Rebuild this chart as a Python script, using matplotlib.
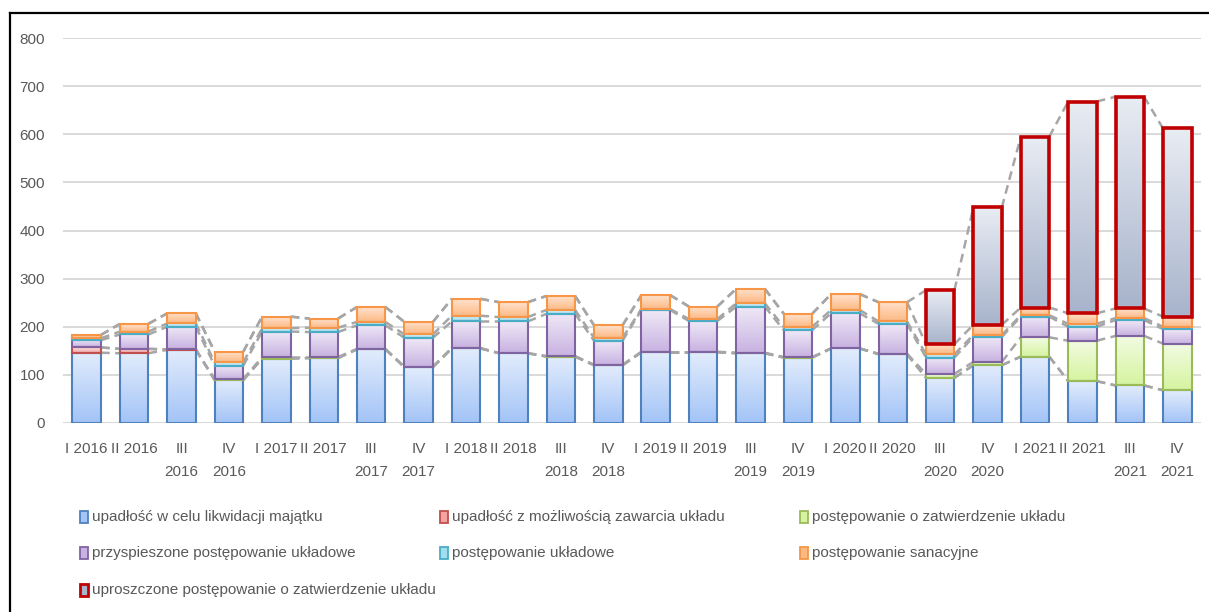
import numpy as np
import matplotlib
matplotlib.use("Agg")
import matplotlib.pyplot as plt
from matplotlib.colors import LinearSegmentedColormap
from matplotlib.patches import Rectangle
from matplotlib.lines import Line2D

plt.rcParams['font.family'] = ['Liberation Sans Narrow', 'Liberation Sans', 'DejaVu Sans']

# Quarter labels
quarters = ["I 2016", "II 2016", "III\n2016", "IV\n2016",
            "I 2017", "II 2017", "III\n2017", "IV\n2017",
            "I 2018", "II 2018", "III\n2018", "IV\n2018",
            "I 2019", "II 2019", "III\n2019", "IV\n2019",
            "I 2020", "II 2020", "III\n2020", "IV\n2020",
            "I 2021", "II 2021", "III\n2021", "IV\n2021"]

# Number of proceedings per type
likwidacja = [146, 145, 152, 89, 134, 135, 153, 116, 155, 145, 138, 120,
              147, 147, 145, 136, 155, 143, 94, 120, 138, 87, 78, 68]
upadlosc_uklad = [11, 9, 1, 0, 0, 0, 0, 0, 0, 0, 0, 0,
                  0, 0, 0, 0, 0, 0, 0, 0, 0, 0, 0, 0]
zatwierdzenie = [0, 0, 0, 2, 3, 2, 1, 1, 1, 0, 1, 1,
                 1, 1, 1, 1, 0, 1, 8, 7, 40, 84, 103, 97]
przyspieszone = [15, 30, 47, 28, 53, 52, 49, 60, 55, 66, 88, 50,
                 87, 64, 96, 56, 73, 62, 34, 52, 43, 29, 33, 30]
ukladowe = [4, 6, 7, 7, 7, 9, 7, 7, 12, 9, 8, 6,
            2, 4, 7, 7, 7, 5, 7, 4, 3, 6, 4, 5]
sanacyjne = [7, 16, 21, 22, 24, 19, 31, 26, 35, 31, 29, 26,
             29, 26, 30, 27, 33, 40, 21, 21, 16, 22, 20, 21]
uproszczone = [0, 0, 0, 0, 0, 0, 0, 0, 0, 0, 0, 0,
               0, 0, 0, 0, 0, 0, 112, 244, 355, 440, 440, 391]

labels = ["upadłość w celu likwidacji majątku",
          "upadłość z możliwością zawarcia układu",
          "postępowanie o zatwierdzenie układu",
          "przyspieszone postępowanie układowe",
          "postępowanie układowe",
          "postępowanie sanacyjne",
          "uproszczone postępowanie o zatwierdzenie układu"]
values = [likwidacja, upadlosc_uklad, zatwierdzenie, przyspieszone,
          ukladowe, sanacyjne, uproszczone]

# edge colour, gradient top, gradient bottom, edge width
styles = [("#4F81BD", "#E2ECFC", "#A3C4F7", 1.5),
          ("#C0504D", "#FBE1E1", "#F2A3A2", 1.5),
          ("#9BBB59", "#F2FBE3", "#D6F4A0", 1.5),
          ("#8064A2", "#EFE9F7", "#C8B2E1", 1.5),
          ("#4BACC6", "#E0F5FA", "#A0DDEE", 1.5),
          ("#F79646", "#FFE2CE", "#FDB984", 1.5),
          ("#C00000", "#E8ECF3", "#A8B4CC", 2.6)]

W, H = 1209, 612
fig = plt.figure(figsize=(W / 100, H / 100), dpi=100)
ax = fig.add_axes([63 / W, 1 - 423 / H, (1201 - 63) / W, (423 - 38) / H])

x = np.arange(len(quarters))
width = 0.6
grad = np.linspace(0, 1, 64).reshape(-1, 1)
bottom = np.zeros(len(quarters))
tops = []
for vals, (edge, ctop, cbot, lw) in zip(values, styles):
    vals = np.asarray(vals, dtype=float)
    cmap = LinearSegmentedColormap.from_list("g", [ctop, cbot])
    rects = ax.bar(x, vals, width, bottom=bottom, facecolor="none",
                   edgecolor=edge, linewidth=lw, zorder=3)
    for r in rects:
        if r.get_height() <= 0:
            r.set_visible(False)
            continue
        x0, y0 = r.get_x(), r.get_y()
        im = ax.imshow(grad, cmap=cmap, aspect="auto", origin="upper",
                       extent=(x0, x0 + r.get_width(), y0, y0 + r.get_height()),
                       zorder=2, interpolation="bilinear")
        im.set_clip_path(r)
    bottom = bottom + vals
    tops.append(bottom.copy())

# series lines between neighbouring columns
for t in tops:
    for i in range(len(x) - 1):
        ax.plot([x[i] + width / 2, x[i + 1] - width / 2], [t[i], t[i + 1]],
                color="#A6A6A6", lw=1.8, ls=(0, (3.5, 2.2)), zorder=1)

ax.set_xlim(-0.5, len(x) - 0.5)
ax.set_ylim(0, 800)
ax.set_yticks(range(0, 801, 100))
ax.set_xticks(x)
ax.set_xticklabels(quarters, linespacing=1.75)
ax.yaxis.grid(True, color="#D9D9D9", lw=1.4, zorder=0)
ax.set_axisbelow(True)
for s in ax.spines.values():
    s.set_visible(False)
ax.tick_params(axis="both", length=0, labelcolor="#595959", labelsize=11)
ax.tick_params(axis="x", pad=14)
ax.tick_params(axis="y", pad=13)

# legend laid out in three columns below the plot
cols = [80, 440, 800]
rows = [517, 553, 590]
for k, (lab, (edge, ctop, cbot, lw)) in enumerate(zip(labels, styles)):
    cx = cols[k % 3]
    cy = rows[k // 3]
    fig.patches.append(Rectangle(((cx) / W, 1 - (cy + 6) / H), 8 / W, 12 / H,
                                 transform=fig.transFigure, facecolor=cbot,
                                 edgecolor=edge, lw=1.3 if lw < 2 else 2.0))
    fig.text((cx + 12) / W, 1 - cy / H, lab, color="#595959", fontsize=11,
             va="center", ha="left")

# outer frame
fig.add_artist(Line2D([10 / W, 10 / W], [0, 1 - 13 / H], color="black",
                      lw=1.6, transform=fig.transFigure))
fig.add_artist(Line2D([10 / W, 1], [1 - 13 / H, 1 - 13 / H], color="black",
                      lw=1.6, transform=fig.transFigure))

fig.savefig("out.png", dpi=100)
